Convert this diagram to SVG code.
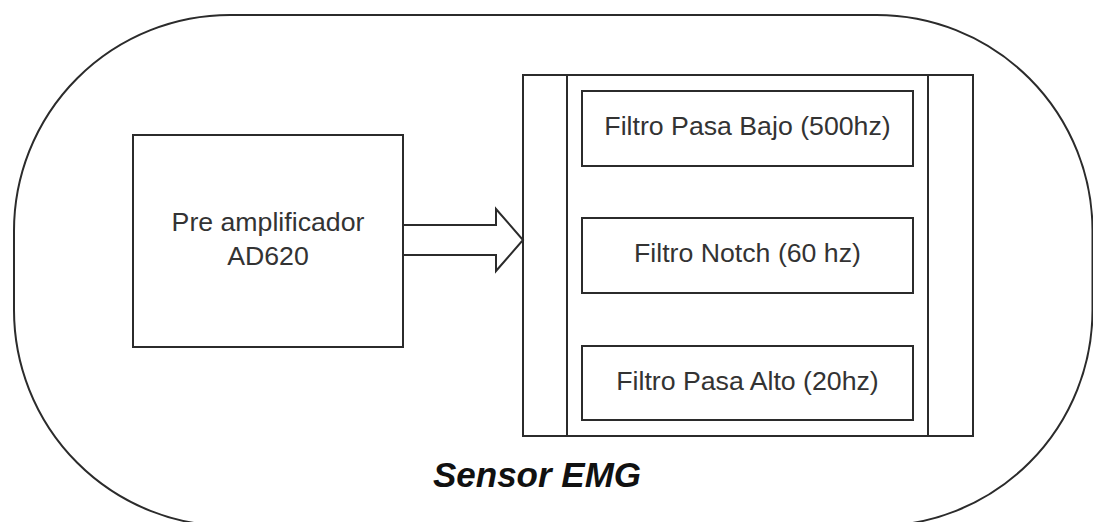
<svg xmlns="http://www.w3.org/2000/svg" width="1093" height="522" viewBox="0 0 1093 522">
  <style>
    .shape { fill: #ffffff; stroke: #2b2b2b; stroke-width: 2; }
    .line { fill: none; stroke: #2b2b2b; stroke-width: 2; }
    .label { font-family: "Liberation Sans", Arial, sans-serif; font-size: 26.7px; fill: #333333; text-anchor: middle; }
    .title { font-family: "Liberation Sans", Arial, sans-serif; font-size: 35px; font-weight: bold; font-style: italic; fill: #111111; text-anchor: middle; }
  </style>
  <rect width="1093" height="522" fill="#ffffff"/>

  <!-- Sensor enclosure -->
  <g id="sensor-emg">
    <rect class="shape" x="14" y="15" width="1078.5" height="511" rx="216" ry="216"/>
    <text class="title" x="537" y="487">Sensor EMG</text>
  </g>

  <!-- Pre-amplifier block -->
  <g id="preamp">
    <rect class="shape" x="133" y="135" width="270" height="212"/>
    <text class="label" x="268" y="231">Pre amplificador</text>
    <text class="label" x="268" y="265">AD620</text>
  </g>

  <!-- Filter stage container -->
  <g id="filter-stage">
    <rect class="shape" x="523" y="75" width="450" height="361"/>
    <line class="line" x1="567" y1="75" x2="567" y2="436"/>
    <line class="line" x1="928" y1="75" x2="928" y2="436"/>
  </g>

  <g id="filter-lowpass">
    <rect class="shape" x="582" y="91" width="331" height="75"/>
    <text class="label" x="747.5" y="135">Filtro Pasa Bajo (500hz)</text>
  </g>

  <g id="filter-notch">
    <rect class="shape" x="582" y="218" width="331" height="75"/>
    <text class="label" x="747.5" y="262">Filtro Notch (60 hz)</text>
  </g>

  <g id="filter-highpass">
    <rect class="shape" x="582" y="346" width="331" height="74"/>
    <text class="label" x="747.5" y="390">Filtro Pasa Alto (20hz)</text>
  </g>

  <!-- Connectors -->
  <g id="connectors">
    <polygon class="shape" points="403,225 496,225 496,209 523,240 496,271 496,255 403,255"/>
  </g>
</svg>
